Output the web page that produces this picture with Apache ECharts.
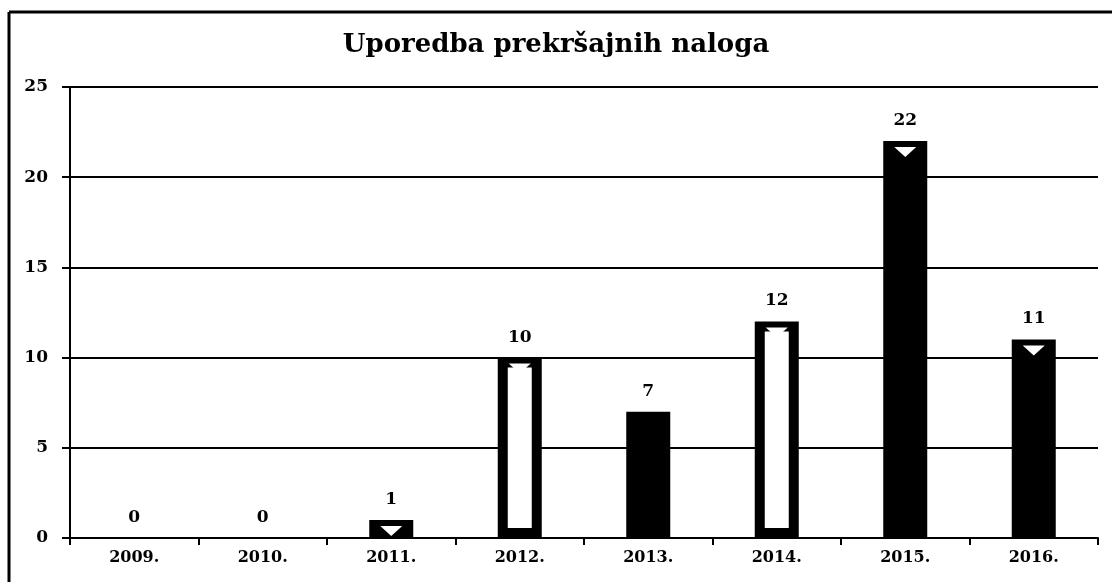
<!DOCTYPE html>
<html>
<head>
<meta charset="utf-8">
<script src="https://cdn.jsdelivr.net/npm/echarts@6/dist/echarts.min.js"></script>
<style>
  html, body { margin: 0; padding: 0; background: #fff; }
  #chart { width: 1112px; height: 582px; }
</style>
</head>
<body>
<div id="chart"></div>
<script>
// ==============================
// data
// ==============================
const years = ['2009.', '2010.', '2011.', '2012.', '2013.', '2014.', '2015.', '2016.'];
const counts = [0, 0, 1, 10, 7, 12, 22, 11];
// bars drawn hollow (white inside) in the original
const hollowYears = ['2012.', '2014.'];
// bars with the small white notch at the top
const notchYears = ['2011.', '2012.', '2014.', '2015.', '2016.'];

const FONT = 'DejaVu Serif';

const chart = echarts.init(document.getElementById('chart'));

const barData = years.map((y, i) => {
  if (hollowYears.includes(y)) {
    return {
      value: counts[i],
      itemStyle: { color: '#fff', borderColor: '#000', borderWidth: 10 }
    };
  }
  return { value: counts[i] };
});

const notchData = years.map((y, i) => (notchYears.includes(y) ? counts[i] : null));

chart.setOption({
  backgroundColor: '#fff',
  animation: false,
  title: {
    text: 'Uporedba prekršajnih naloga',
    left: 'center',
    top: 27,
    textStyle: { fontFamily: FONT, fontWeight: 'bold', fontSize: 26, color: '#000' }
  },
  grid: { left: 70, right: 14, top: 87, bottom: 44 },
  xAxis: {
    type: 'category',
    data: years,
    axisLine: { show: true, lineStyle: { color: '#000', width: 2 } },
    axisTick: { show: true, length: 7, lineStyle: { color: '#000', width: 2 } },
    axisLabel: { color: '#000', fontFamily: FONT, fontWeight: 'bold', fontSize: 16, margin: 12 }
  },
  yAxis: {
    type: 'value',
    min: 0,
    max: 25,
    interval: 5,
    axisLine: { show: true, lineStyle: { color: '#000', width: 2 } },
    axisTick: { show: true, length: 8, lineStyle: { color: '#000', width: 2 } },
    splitLine: { show: true, lineStyle: { color: '#000', width: 2 } },
    axisLabel: { color: '#000', fontFamily: FONT, fontWeight: 'bold', fontSize: 17, margin: 22 }
  },
  series: [
    {
      type: 'bar',
      barWidth: 44,
      data: barData,
      itemStyle: { color: '#000' },
      label: {
        show: true,
        position: 'top',
        distance: 12,
        color: '#000',
        fontFamily: FONT,
        fontWeight: 'bold',
        fontSize: 17
      }
    },
    {
      type: 'scatter',
      data: notchData,
      symbol: 'triangle',
      symbolRotate: 180,
      symbolSize: [22, 10],
      symbolOffset: [0, 11],
      itemStyle: { color: '#fff', opacity: 1 },
      silent: true,
      z: 5
    }
  ],
  graphic: [
    { type: 'line', shape: { x1: 9, y1: 12, x2: 1112, y2: 12 }, style: { stroke: '#000', lineWidth: 3 } },
    { type: 'line', shape: { x1: 9, y1: 12, x2: 9, y2: 582 }, style: { stroke: '#000', lineWidth: 3 } }
  ]
});
</script>
</body>
</html>
